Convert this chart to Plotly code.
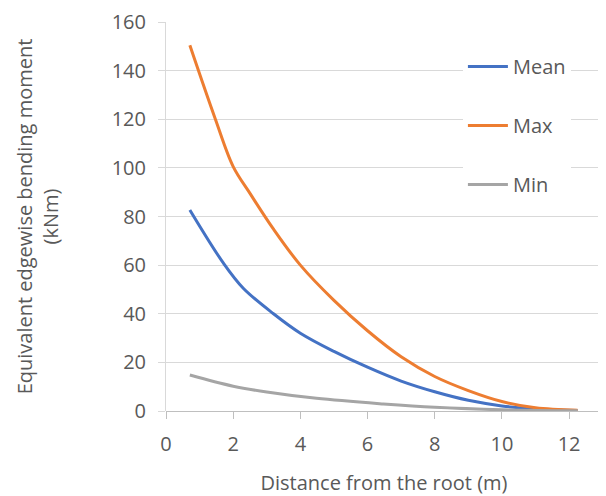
import plotly.graph_objects as go

x_max = [0.71, 1.46, 2.0, 2.5, 3.19, 4.0, 5.0, 6.0, 7.0, 8.0, 9.0, 10.0, 11.0, 12.25]
y_max = [150.4, 120.4, 100.5, 89.5, 75.0, 60.0, 45.5, 33.0, 22.3, 14.2, 8.4, 3.9, 1.3, 0.3]

x_mean = [0.71, 1.71, 2.3, 3.2, 4.0, 5.0, 6.0, 7.0, 8.0, 9.0, 10.0, 11.0, 12.25]
y_mean = [82.7, 60.8, 50.5, 40.0, 32.0, 24.5, 18.0, 12.3, 7.9, 4.4, 2.1, 0.8, 0.2]

x_min = [0.71, 2.0, 3.0, 4.48, 6.47, 8.0, 10.0, 12.25]
y_min = [14.8, 10.2, 7.8, 5.2, 2.9, 1.5, 0.5, 0.1]

FONT = "Open Sans"
GREY_TXT = "#595959"
FS = 20

fig = go.Figure()
fig.add_trace(go.Scatter(x=x_mean, y=y_mean, name="Mean", mode="lines",
                         line=dict(color="#4472C4", width=3, shape="spline"), legendgroup="a"))
fig.add_trace(go.Scatter(x=x_max, y=y_max, name="Max", mode="lines",
                         line=dict(color="#ED7D31", width=3, shape="spline"), legendgroup="b"))
fig.add_trace(go.Scatter(x=x_min, y=y_min, name="Min", mode="lines",
                         line=dict(color="#A5A5A5", width=3, shape="spline"), legendgroup="c"))

# page body has an 8px default margin, so the figure is drawn 8px smaller
fig.update_layout(
    width=598, height=488,
    margin=dict(l=158, r=4, t=14, b=85),
    paper_bgcolor="white", plot_bgcolor="white",
    font=dict(family=FONT, size=FS, color=GREY_TXT),
    legend=dict(x=0.681, y=0.936, xanchor="left", yanchor="top",
                bgcolor="white", tracegroupgap=30, traceorder="grouped",
                font=dict(size=FS, color=GREY_TXT), itemwidth=40),
    xaxis=dict(range=[0, 12.98], dtick=2, tick0=0, showgrid=False,
               showline=False, ticks="outside", ticklen=7, tickcolor="#bfbfbf",
               zeroline=False, automargin=False, ticklabelstandoff=8,
               title=dict(text="Distance from the root (m)", standoff=19,
                          font=dict(size=FS, color=GREY_TXT))),
    yaxis=dict(range=[0, 160], dtick=20, showgrid=True, gridcolor="#d9d9d9",
               gridwidth=1, showline=True, linecolor="#d9d9d9", linewidth=1,
               ticks="outside", ticklen=7, tickcolor="#d9d9d9",
               zeroline=True, zerolinecolor="#bfbfbf", zerolinewidth=1,
               automargin=False, ticklabelstandoff=8,
               title=dict(text="Equivalent edgewise bending moment<br>(kNm)", standoff=47,
                          font=dict(size=FS, color=GREY_TXT))),
)

fig.write_html("out.html")
